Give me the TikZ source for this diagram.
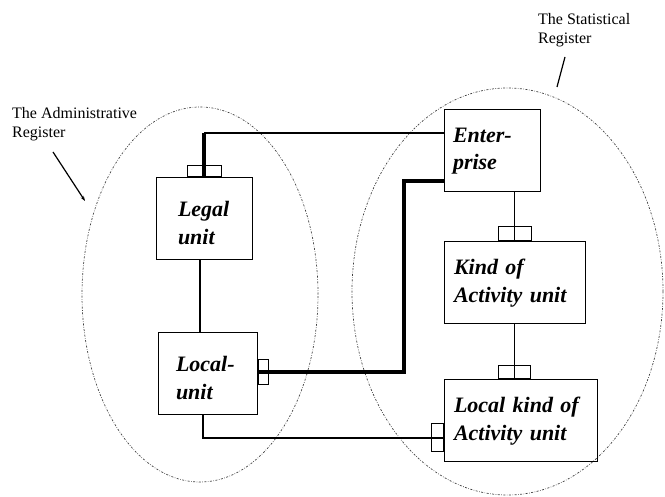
\documentclass[tikz,border=0pt]{standalone}
\usepackage{fontspec}
\setmainfont{Liberation Serif}
\usetikzlibrary{arrows.meta}

\begin{document}
\begin{tikzpicture}[x=1pt,y=-1pt]
					\tikzstyle{unit}=[draw=black,line width=1pt,font=\fontsize{22}{27.5}\selectfont\bfseries\itshape,align=left,inner ysep=0pt,minimum height=82pt]
					\tikzstyle{tab}=[draw=black,line width=1pt,inner sep=0pt]
					\tikzstyle{register}=[draw=black!75,line width=0.7pt,dash pattern=on 2pt off 1.5pt on 0.6pt off 1.5pt]
					\tikzstyle{label}=[font=\fontsize{16}{19}\selectfont,align=left,inner sep=0pt,anchor=north west]
					\useasboundingbox (0,0) rectangle (665,497);
					\draw[register] (200,294.5) ellipse [x radius=118pt,y radius=187.5pt];
					\draw[register] (507.5,291.5) ellipse [x radius=155.5pt,y radius=203.5pt];
					\node[label] (admin) at (12,107) {The Administrative\\Register};
					\node[label] (stat) at (538,13) {The Statistical\\Register};
					\node[unit,inner xsep=22pt,text width=52pt] (legal) at (204,219) {\rule{0pt}{23pt}Legal\\unit};
					\node[unit,inner xsep=18pt,text width=63pt] (local) at (207.5,374) {\rule{0pt}{23pt}Local-\\unit};
					\node[unit,inner xsep=9pt,text width=78pt] (ent) at (492,151) {Enter-\\prise};
					\node[unit,inner xsep=10pt,text width=121pt] (kind) at (514.5,283) {Kind of\\Activity unit};
					\node[unit,inner xsep=10pt,text width=133pt] (lkau) at (520.5,421) {Local kind of\\Activity unit};
					\node[tab,minimum width=34pt,minimum height=11pt,anchor=south] (legtab) at (legal.north) {};
					\node[tab,minimum width=33pt,minimum height=14pt,anchor=south] (kindtab) at (kind.north) {};
					\node[tab,minimum width=32pt,minimum height=13pt,anchor=south] (lktab) at (kind.south |- lkau.north) {};
					\node[tab,minimum width=10pt,minimum height=25pt,anchor=west] (loctab) at ([yshift=1.5pt]local.east) {};
					\node[tab,minimum width=12pt,minimum height=28pt,anchor=east] (lkside) at ([yshift=-17pt]lkau.west) {};
					\coordinate (entin) at ([yshift=18pt]ent.west);
					\coordinate (bend) at (404,181);
					\coordinate (legbot) at ([xshift=-4pt]legal.south);
					\coordinate (locbot) at ([xshift=-4.5pt]local.south);
					\coordinate (adminfrom) at (53,152);
					\coordinate (adminto) at (85,201);
					\coordinate (statfrom) at (565,57);
					\coordinate (statto) at (557,87);
					\draw[line width=3.5pt] (legal.north) -- (legal.north |- entin);
					\draw[line width=1.8pt] (legal.north |- entin) -- (entin);
					\draw[line width=4pt] (loctab.west) -| (bend) -- (bend -| ent.west);
					\draw[line width=2pt] (locbot) |- (lkside.east);
					\draw[line width=1.2pt] (legbot) -- (legbot |- local.north);
					\draw[line width=1.2pt] (kind.north) -- (kind.north |- ent.south);
					\draw[line width=1.2pt] (kind.south) -- (kind.south |- lkau.north);
					\draw[line width=1.2pt,-{Stealth[length=5pt,width=3.5pt]}] (adminfrom) -- (adminto);
					\draw[line width=1.2pt] (statfrom) -- (statto);
\end{tikzpicture}
\end{document}
